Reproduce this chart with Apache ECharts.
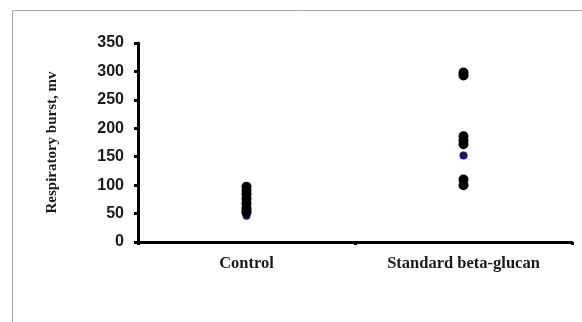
<!DOCTYPE html>
<html><head><meta charset="utf-8">
<script src="https://cdn.jsdelivr.net/npm/echarts@6/dist/echarts.min.js"></script>
<style>html,body{margin:0;padding:0;background:#fff}#c{width:582px;height:322px}</style>
</head><body><div id="c"></div>
<script>
var categories = ['Control', 'Standard beta-glucan'];
var yTicks = [0, 50, 100, 150, 200, 250, 300, 350];
var controlValues = [97, 90, 84, 76, 68, 60, 55, 52];
var standardValues = [298, 293, 186, 179, 172, 110, 100];
var meanControl = 46;
var meanStandard = 152;

var blackData = controlValues.map(function(v){return [categories[0], v];})
  .concat(standardValues.map(function(v){return [categories[1], v];}));
var blueData = [[categories[0], meanControl], [categories[1], meanStandard]];

var chart = echarts.init(document.getElementById('c'), null, {renderer:'canvas'});
chart.setOption({
  animation:false,
  backgroundColor:'#ffffff',
  graphic:[{type:'rect', shape:{x:12.5,y:10.5,width:700,height:400}, style:{fill:'none', stroke:'#a6a6a6', lineWidth:1}, silent:true}],
  grid:{left:138, right:10, top:43, bottom:80, containLabel:false},
  xAxis:{type:'category', data:categories, boundaryGap:true,
    axisLine:{lineStyle:{color:'#000', width:3}},
    axisTick:{show:true, length:3, lineStyle:{color:'#000', width:3}},
    axisLabel:{color:'#1a1a1a', fontFamily:'Liberation Serif', fontWeight:'bold', fontSize:16.5, margin:13}},
  yAxis:{type:'value', min:yTicks[0], max:yTicks[yTicks.length-1], interval:50,
    name:'Respiratory burst, mv', nameLocation:'middle', nameGap:78, nameRotate:90,
    nameTextStyle:{color:'#1a1a1a', fontFamily:'Liberation Serif', fontWeight:'bold', fontSize:15},
    splitLine:{show:false},
    axisLine:{show:true, lineStyle:{color:'#000', width:3}},
    axisTick:{show:true, length:4, lineStyle:{color:'#000', width:3}},
    axisLabel:{color:'#1a1a1a', fontFamily:'Liberation Sans', fontWeight:'bold', fontSize:16, margin:14}},
  series:[
    {type:'scatter', data:blueData, symbolSize:8, itemStyle:{color:'#14147a', opacity:1}, z:2},
    {type:'scatter', data:blackData, symbolSize:10, itemStyle:{color:'#000', opacity:1}, z:3}
  ]
});
</script></body></html>
